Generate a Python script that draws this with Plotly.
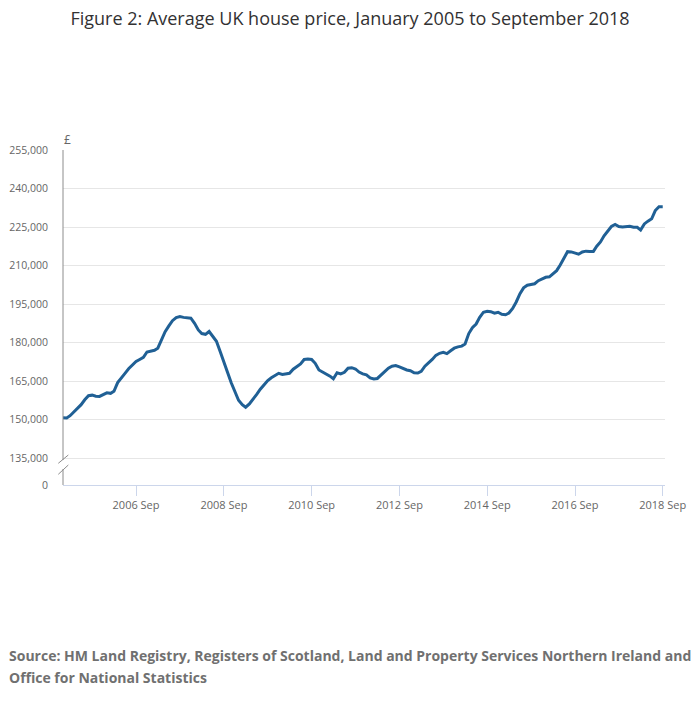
"""Figure 2: Average UK house price, January 2005 to September 2018"""

import pandas as pd
from plotly import graph_objects as go

# monthly dates, Jan 2005 .. Sep 2018
months = pd.date_range("2005-01-01", "2018-09-01", freq="MS")

# average price, GBP
avg_price = [
    150700, 150600, 151500, 153000, 154400, 155800, 157700, 159300, 159500, 159100, 159000, 159700,
    160400, 160200, 161000, 164400, 166400, 168000, 169800, 171300, 172600, 173400, 174200, 176300,
    176800, 177000, 177800, 180800, 184200, 186500, 188500, 189700, 190100, 189800, 189700, 189500,
    187500, 184900, 183500, 183200, 184300, 182500, 180500, 176500, 172000, 168400, 164300, 160900,
    157500, 155800, 154800, 156100, 157800, 159800, 161800, 163500, 165200, 166300, 167200, 168000,
    167600, 167800, 168000, 169600, 170700, 171700, 173400, 173600, 173400, 171900, 169300, 168600,
    167600, 166900, 165900, 168200, 167800, 168400, 170000, 170200, 169700, 168500, 167800, 167400,
    166200, 165800, 166000, 167400, 168800, 170000, 170800, 171000, 170500, 169800, 169300, 169000,
    168200, 168100, 168800, 170800, 172000, 173400, 175000, 175800, 176200, 175700, 176800, 177800,
    178300, 178600, 179400, 183500, 185800, 187200, 189800, 191800, 192200, 192000, 191400, 191800,
    191000, 190800, 191500, 193300, 195800, 199000, 201300, 202300, 202600, 202900, 204100, 204800,
    205400, 205600, 206800, 208000, 210200, 213000, 215400, 215300, 214800, 214400, 215300, 215600,
    215500, 215500, 217500, 219200, 221600, 223500, 225200, 226000, 225200, 225000, 225300, 225300,
    224900, 224900, 223800, 226200, 227300, 228200, 231400, 232900, 232900,
]

# y axis: break between 0 and 135,000
y_tickvals = [124500, 135000, 150000, 165000, 180000, 195000, 210000, 225000, 240000, 255000]
y_ticktext = ["0", "135,000", "150,000", "165,000", "180,000", "195,000",
              "210,000", "225,000", "240,000", "255,000"]

x_tickvals = ["2006-09-01", "2008-09-01", "2010-09-01", "2012-09-01",
              "2014-09-01", "2016-09-01", "2018-09-01"]
x_ticktext = ["2006 Sep", "2008 Sep", "2010 Sep", "2012 Sep",
              "2014 Sep", "2016 Sep", "2018 Sep"]

FONT = "Open Sans"
AXIS_GREY = "#8c8c8c"
LABEL_GREY = "#666666"

# the page body adds an 8px margin, so the layout is shifted back by that
PAGE_OFFSET = 8

fig = go.Figure()
fig.add_trace(
    go.Scatter(
        x=months,
        y=avg_price,
        mode="lines",
        line={"color": "#206095", "width": 3},
        hoverinfo="x+y",
        showlegend=False,
    )
)


def px_y(p: float) -> float:
    """page row -> paper y (plot spans rows 150..485)"""
    return (485 - p) / 335


def px_x(p: float) -> float:
    """page column -> paper x (plot spans columns 63..665)"""
    return (p - 63) / 602


axis_shapes = [
    # broken y axis line
    {"x0": 0, "x1": 0, "y0": px_y(460), "y1": 1},
    {"x0": 0, "x1": 0, "y0": 0, "y1": px_y(469)},
    # break slashes
    {"x0": px_x(58.3), "x1": px_x(68.3), "y0": px_y(463.3), "y1": px_y(455)},
    {"x0": px_x(58.3), "x1": px_x(68.3), "y0": px_y(474.3), "y1": px_y(465)},
]
for shp in axis_shapes:
    fig.add_shape(
        type="line",
        xref="paper",
        yref="paper",
        line={"color": AXIS_GREY, "width": 1},
        **shp,
    )

fig.update_layout(
    width=700,
    height=707,
    margin={
        "l": 63 - PAGE_OFFSET,
        "r": 700 - (665 - PAGE_OFFSET),
        "t": 150 - PAGE_OFFSET,
        "b": 707 - (485 - PAGE_OFFSET),
        "autoexpand": False,
    },
    paper_bgcolor="white",
    plot_bgcolor="white",
    font={"family": FONT, "color": LABEL_GREY, "size": 11},
    title={
        "text": "Figure 2: Average UK house price, January 2005 to September 2018",
        "xref": "container",
        "yref": "container",
        "x": (350 - PAGE_OFFSET) / 700,
        "xanchor": "center",
        "y": 1 - (18.5 - PAGE_OFFSET) / 707,
        "yanchor": "middle",
        "font": {"family": FONT, "size": 18, "color": "#323132"},
    },
    xaxis={
        "type": "date",
        "range": ["2005-01-01", "2018-09-20"],
        "tickvals": x_tickvals,
        "ticktext": x_ticktext,
        "showgrid": False,
        "zeroline": False,
        "showline": True,
        "linecolor": "#ccd6eb",
        "linewidth": 1,
        "ticks": "outside",
        "ticklen": 10,
        "tickcolor": "#ccd6eb",
        "tickfont": {"size": 11, "color": LABEL_GREY},
        "automargin": False,
    },
    yaxis={
        "range": [124500, 255000],
        "tickvals": y_tickvals,
        "ticktext": y_ticktext,
        "showgrid": True,
        "gridcolor": "#e6e6e6",
        "gridwidth": 1,
        "zeroline": False,
        "showline": False,
        "ticks": "",
        "ticklabelstandoff": 14,
        "tickfont": {"size": 10.5, "color": LABEL_GREY},
        "automargin": False,
    },
    annotations=[
        {
            "text": "£",
            "xref": "paper",
            "yref": "paper",
            "x": px_x(62),
            "y": 1,
            "xanchor": "left",
            "yanchor": "bottom",
            "showarrow": False,
            "font": {"size": 12, "color": LABEL_GREY},
        },
        {
            "text": "<b>Source: HM Land Registry, Registers of Scotland, Land and Property "
                    "Services Northern Ireland and</b>",
            "xref": "paper",
            "yref": "paper",
            "x": px_x(7),
            "y": px_y(655),
            "xanchor": "left",
            "yanchor": "middle",
            "showarrow": False,
            "font": {"size": 14, "color": "#707070"},
        },
        {
            "text": "<b>Office for National Statistics</b>",
            "xref": "paper",
            "yref": "paper",
            "x": px_x(7),
            "y": px_y(677),
            "xanchor": "left",
            "yanchor": "middle",
            "showarrow": False,
            "font": {"size": 14, "color": "#707070"},
        },
    ],
)

fig.write_html("out.html")
